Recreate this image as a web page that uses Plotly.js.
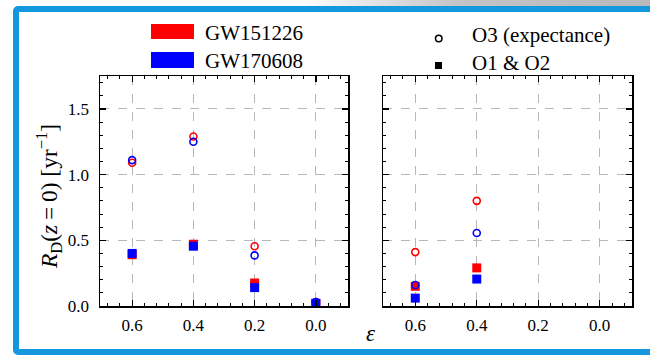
<!DOCTYPE html>
<html>
<head>
<meta charset="utf-8">
<script src="https://cdn.plot.ly/plotly-3.0.1.min.js"></script>
<style>
  html, body { margin: 0; padding: 0; background: #ffffff; }
  #wrap { position: relative; width: 650px; height: 359px; overflow: hidden; }
  #chart { position: absolute; left: 0; top: 0; width: 650px; height: 359px; }
  #topshade { position: absolute; left: 300px; top: 0; width: 350px; height: 7px;
    background: linear-gradient(to right, rgba(190,190,190,0), #c4c4c4 45%, #b9b9b9); pointer-events: none; }
  #frame { position: absolute; left: 13px; top: 6px; width: 640px; height: 337px;
    border: 6px solid #1597e0; border-radius: 5px; pointer-events: none; }
</style>
</head>
<body>
<div id="wrap">
  <div id="chart"></div>
  <div id="topshade"></div>
  <div id="frame"></div>
</div>
<script>
// spin parameter epsilon for each panel
const epsLeft = [0.6, 0.4, 0.2, 0.0];
const epsRight = [0.6, 0.4];

// left panel: merger rate R_D(z=0) [1/yr]
const o3_GW151226_left = [1.09, 1.29, 0.455, 0.03];
const o3_GW170608_left = [1.11, 1.25, 0.385, 0.03];
const o12_GW151226_left = [0.39, 0.47, 0.175, 0.02];
const o12_GW170608_left = [0.40, 0.455, 0.14, 0.02];

// right panel
const o3_GW151226_right = [0.41, 0.80];
const o3_GW170608_right = [0.16, 0.555];
const o12_GW151226_right = [0.15, 0.29];
const o12_GW170608_right = [0.06, 0.205];

const eventNames = ['GW151226', 'GW170608'];
const runNames = ['O3 (expectance)', 'O1 & O2'];
const yTicks = [0.0, 0.5, 1.0, 1.5];
const xTicks = [0.6, 0.4, 0.2, 0.0];

const RED = '#ff0000', BLUE = '#0000ff';
const FONT = '"Liberation Serif", "Times New Roman", serif';

function squares(x, y, color, xa, ya) {
  return { x: x, y: y, xaxis: xa, yaxis: ya, type: 'scatter', mode: 'markers',
    showlegend: false, hoverinfo: 'skip',
    marker: { symbol: 'square', size: 9, color: color, line: { width: 0 } } };
}
function circles(x, y, color, xa, ya) {
  return { x: x, y: y, xaxis: xa, yaxis: ya, type: 'scatter', mode: 'markers',
    showlegend: false, hoverinfo: 'skip',
    marker: { symbol: 'circle-open', size: 7, color: color, line: { width: 1.6, color: color } } };
}

const data = [
  squares(epsLeft, o12_GW151226_left, RED, 'x', 'y'),
  circles(epsLeft, o3_GW151226_left, RED, 'x', 'y'),
  squares(epsLeft, o12_GW170608_left, BLUE, 'x', 'y'),
  circles(epsLeft, o3_GW170608_left, BLUE, 'x', 'y'),
  squares(epsRight, o12_GW151226_right, RED, 'x2', 'y2'),
  circles(epsRight, o3_GW151226_right, RED, 'x2', 'y2'),
  squares(epsRight, o12_GW170608_right, BLUE, 'x2', 'y2'),
  circles(epsRight, o3_GW170608_right, BLUE, 'x2', 'y2')
];

// plot area in pixels
const L = 100, R = 632, T = 76, B = 306;
const px = v => (v - L) / (R - L);
const py = v => (B - v) / (B - T);

function xAxis(domain, anchor) {
  return {
    domain: domain, anchor: anchor, range: [0.705, -0.105],
    tickmode: 'array', tickvals: xTicks, tickformat: '.1f',
    showline: true, linecolor: '#000', linewidth: 1.5, mirror: 'allticks',
    ticks: 'inside', ticklen: 6, tickwidth: 1.3, tickcolor: '#000',
    minor: { dtick: 0.04, tick0: 0, ticks: 'inside', ticklen: 3, tickwidth: 1, tickcolor: '#000', showgrid: false },
    showgrid: true, gridcolor: '#b8b8b8', griddash: 'dash', gridwidth: 1,
    zeroline: false, ticklabelstandoff: 3,
    tickfont: { family: FONT, size: 17, color: '#000' }
  };
}
function yAxis(anchor, labels) {
  return {
    anchor: anchor, domain: [0, 1], range: [0, 1.75],
    tickmode: 'array', tickvals: yTicks, tickformat: '.1f', showticklabels: labels,
    showline: true, linecolor: '#000', linewidth: 1.5, mirror: 'allticks',
    ticks: 'inside', ticklen: 6, tickwidth: 1.3, tickcolor: '#000',
    minor: { dtick: 0.1, tick0: 0, ticks: 'inside', ticklen: 3, tickwidth: 1, tickcolor: '#000', showgrid: false },
    showgrid: true, gridcolor: '#b8b8b8', griddash: 'dash', gridwidth: 1,
    zeroline: false, ticklabelstandoff: 6,
    tickfont: { family: FONT, size: 17, color: '#000' }
  };
}

const shapes = [
  // colour patches for the two events
  { type: 'rect', xref: 'paper', yref: 'paper', x0: px(151), x1: px(194), y0: py(39), y1: py(24),
    fillcolor: RED, line: { width: 0 } },
  { type: 'rect', xref: 'paper', yref: 'paper', x0: px(151), x1: px(194), y0: py(68), y1: py(52),
    fillcolor: BLUE, line: { width: 0 } },
  // marker keys for the two observing runs
  { type: 'circle', xref: 'paper', yref: 'paper', x0: px(435.5), x1: px(442), y0: py(41.8), y1: py(35.3),
    fillcolor: 'rgba(0,0,0,0)', line: { color: '#000', width: 1.5 } },
  { type: 'rect', xref: 'paper', yref: 'paper', x0: px(435), x1: px(442), y0: py(69), y1: py(62),
    fillcolor: '#000', line: { width: 0 } }
];

const annFont = { family: FONT, size: 21, color: '#000' };
const annotations = [
  { xref: 'paper', yref: 'paper', x: px(203), y: py(33), xanchor: 'left', yanchor: 'middle',
    text: eventNames[0], showarrow: false, font: annFont },
  { xref: 'paper', yref: 'paper', x: px(203), y: py(61), xanchor: 'left', yanchor: 'middle',
    text: eventNames[1], showarrow: false, font: annFont },
  { xref: 'paper', yref: 'paper', x: px(470), y: py(35), xanchor: 'left', yanchor: 'middle',
    text: runNames[0], showarrow: false, font: annFont },
  { xref: 'paper', yref: 'paper', x: px(470), y: py(63), xanchor: 'left', yanchor: 'middle',
    text: runNames[1], showarrow: false, font: annFont },
  // axis titles
  { xref: 'paper', yref: 'paper', x: px(49), y: py(197), xanchor: 'center', yanchor: 'middle',
    textangle: -90, showarrow: false,
    text: '<i>R</i><sub>D</sub>(<i>z</i>\u2009=\u20090) [yr<sup>\u22121</sup>]',
    font: { family: FONT, size: 23.5, color: '#000' } },
  { xref: 'paper', yref: 'paper', x: px(371), y: py(333), xanchor: 'center', yanchor: 'middle',
    showarrow: false, text: '<i>\u03b5</i>', font: { family: FONT, size: 23, color: '#000' } }
];

const layout = {
  width: 650, height: 359,
  margin: { l: L, r: 650 - R, t: T, b: 359 - B, pad: 0 },
  paper_bgcolor: '#ffffff', plot_bgcolor: '#ffffff',
  showlegend: false,
  xaxis: xAxis([0, px(348)], 'y'),
  xaxis2: xAxis([px(383), 1], 'y2'),
  yaxis: yAxis('x', true),
  yaxis2: yAxis('x2', false),
  shapes: shapes,
  annotations: annotations
};

Plotly.newPlot('chart', data, layout, { staticPlot: true, displayModeBar: false });
</script>
</body>
</html>
